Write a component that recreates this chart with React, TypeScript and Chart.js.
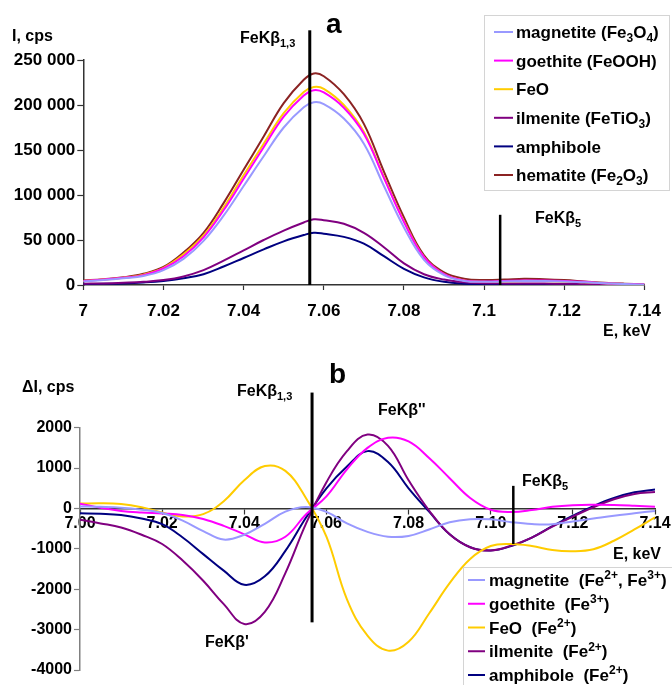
import React, { useEffect, useRef } from 'react';
import { Chart, registerables } from 'chart.js';

Chart.register(...registerables);

const FONT = '"Liberation Sans", Arial, Helvetica, sans-serif';

// ---------- Panel a: FeKβ spectra ----------
const energiesA = [7.000, 7.005, 7.010, 7.015, 7.020, 7.025, 7.030, 7.035, 7.040, 7.045, 7.050, 7.055, 7.0575, 7.060, 7.065, 7.070, 7.075, 7.080, 7.085, 7.090, 7.095, 7.100, 7.105, 7.110, 7.115, 7.120, 7.125, 7.130, 7.135, 7.140];
const magnetiteA = [4000, 5500, 7500, 10000, 16500, 29000, 49000, 77000, 110000, 143000, 175000, 197500, 203000, 201000, 185000, 157000, 110000, 64000, 28000, 11000, 4500, 3500, 4000, 4500, 4500, 4000, 3000, 2000, 1000, 500];
const goethiteA = [4500, 6000, 8000, 11000, 18500, 32000, 53000, 83000, 118000, 153000, 187000, 210500, 216500, 214000, 197000, 168000, 119000, 70000, 31000, 12000, 5000, 4000, 4500, 5000, 5000, 4500, 3500, 2000, 1200, 600];
const feoA = [4500, 6000, 8000, 11500, 19000, 34000, 55000, 86000, 122000, 157000, 191000, 214500, 220000, 218000, 200000, 170000, 120000, 71000, 31000, 12000, 5000, 3500, 4000, 4500, 4500, 4000, 3000, 2000, 1000, 500];
const ilmeniteA = [1500, 1800, 2500, 3500, 5500, 9500, 16500, 27000, 38500, 50000, 60500, 69500, 73000, 72000, 68000, 58000, 42000, 24000, 12000, 6000, 3000, 2000, 1800, 1800, 1600, 1400, 1200, 1000, 800, 600];
const amphiboleA = [1000, 1300, 1800, 2800, 4500, 7500, 12000, 20500, 30000, 39500, 48500, 55500, 58000, 57000, 53500, 46000, 32000, 18000, 8500, 3500, 1500, 1000, 800, 700, 600, 500, 400, 300, 300, 200];
const hematiteA = [5000, 6500, 8500, 12500, 20000, 36000, 58000, 91000, 128000, 165000, 202000, 228000, 235000, 232000, 212000, 179000, 126000, 75000, 33000, 14000, 7000, 5500, 6000, 7000, 6500, 5500, 4000, 2500, 1500, 800];
const namesA = ['magnetite (Fe₃O₄)', 'goethite (FeOOH)', 'FeO', 'ilmenite (FeTiO₃)', 'amphibole', 'hematite (Fe₂O₃)'];
const xTicksA = [7, 7.02, 7.04, 7.06, 7.08, 7.1, 7.12, 7.14];
const xLabelsA = ['7', '7.02', '7.04', '7.06', '7.08', '7.1', '7.12', '7.14'];
const yTicksA = [0, 50000, 100000, 150000, 200000, 250000];
const yLabelsA = ['0', '50 000', '100 000', '150 000', '200 000', '250 000'];
const markKb13A = [7.0565, 0, 283000]; // E, from, to
const markKb5A = [7.104, 0, 78000];

// ---------- Panel b: difference spectra ----------
const energiesB = [7.000, 7.005, 7.010, 7.015, 7.020, 7.025, 7.030, 7.035, 7.040, 7.045, 7.050, 7.055, 7.060, 7.065, 7.070, 7.075, 7.080, 7.085, 7.090, 7.095, 7.100, 7.105, 7.110, 7.115, 7.120, 7.125, 7.130, 7.135, 7.140];
const magnetiteB = [50, 40, 20, -30, -110, -300, -560, -770, -650, -380, -80, 35, -85, -370, -580, -700, -680, -520, -340, -265, -270, -340, -385, -390, -320, -250, -180, -120, -60];
const goethiteB = [120, 20, -60, -100, -125, -160, -260, -430, -640, -840, -700, -150, 300, 970, 1500, 1750, 1660, 1250, 750, 260, -30, -85, -40, 40, 80, 90, 85, 65, 40];
const feoB = [120, 130, 110, 30, -100, -200, -140, 180, 700, 1050, 930, 260, -700, -2250, -3150, -3520, -3300, -2600, -1850, -1250, -930, -880, -930, -1030, -1060, -1010, -800, -520, -220];
const ilmeniteB = [-280, -370, -470, -650, -880, -1290, -1790, -2370, -2860, -2560, -1600, -380, 650, 1420, 1830, 1550, 700, -50, -640, -960, -1040, -920, -720, -450, -200, 30, 230, 360, 410];
const amphiboleB = [-120, -130, -160, -250, -390, -720, -1130, -1540, -1890, -1680, -1050, -230, 500, 1040, 1420, 1150, 500, -80, -640, -960, -1040, -930, -720, -440, -180, 60, 260, 400, 470];
const namesB = ['magnetite  (Fe²⁺, Fe³⁺)', 'goethite  (Fe³⁺)', 'FeO  (Fe²⁺)', 'ilmenite  (Fe²⁺)', 'amphibole  (Fe²⁺)'];
const xTicksB = [7.0, 7.02, 7.04, 7.06, 7.08, 7.1, 7.12, 7.14];
const xLabelsB = ['7.00', '7.02', '7.04', '7.06', '7.08', '7.10', '7.12', '7.14'];
const yTicksB = [-4000, -3000, -2000, -1000, 0, 1000, 2000];
const yLabelsB = ['-4000', '-3000', '-2000', '-1000', '0', '1000', '2000'];
const markKb13B = [7.0565, -2820, 2870];
const markKb5B = [7.1055, -880, 560];

const COLORS = {
  magnetite: '#9999ff',
  goethite: '#ff00ff',
  feo: '#ffcc00',
  ilmenite: '#800080',
  amphibole: '#000080',
  hematite: '#8b2323',
};

// ---------- rich text (sub/superscripts) ----------
const SUBS = '₀₁₂₃₄₅₆₇₈₉';
const SUPS = '⁰¹²³⁴⁵⁶⁷⁸⁹';
type Seg = { t: string; k: 'n' | 'sub' | 'sup' };
function segs(s: string): Seg[] {
  const out: Seg[] = [];
  const chars = Array.from(s);
  chars.forEach((ch, i) => {
    let k: Seg['k'] = 'n';
    let c = ch;
    const si = SUBS.indexOf(ch);
    const pi = SUPS.indexOf(ch);
    if (si >= 0) { k = 'sub'; c = String(si); }
    else if (pi >= 0) { k = 'sup'; c = String(pi); }
    else if (ch === '⁺') { k = 'sup'; c = '+'; }
    else if (ch === ',' && SUBS.indexOf(chars[i - 1] ?? 'x') >= 0 && SUBS.indexOf(chars[i + 1] ?? 'x') >= 0) { k = 'sub'; }
    const last = out[out.length - 1];
    if (last && last.k === k) last.t += c; else out.push({ t: c, k });
  });
  return out;
}
function drawRich(ctx: CanvasRenderingContext2D, s: string, x: number, y: number, size: number, color = '#000') {
  let cx = x;
  ctx.textBaseline = 'alphabetic';
  ctx.textAlign = 'left';
  ctx.fillStyle = color;
  for (const g of segs(s)) {
    const small = g.k !== 'n';
    const fs = small ? Math.round(size * 0.68) : size;
    ctx.font = `bold ${fs}px ${FONT}`;
    const dy = g.k === 'sub' ? size * 0.22 : g.k === 'sup' ? -size * 0.4 : 0;
    ctx.fillText(g.t, cx, y + dy);
    cx += ctx.measureText(g.t).width;
  }
}

type TextItem = { text: string; x: number; y: number; size: number };
type LegendSpec = { x: number; y: number; w: number; h: number; row0: number; step: number; lx0: number; lx1: number; tx: number; size: number; first: number };

function annotPlugin(id: string, texts: TextItem[], legend: LegendSpec) {
  return {
    id,
    afterDraw(chart: any) {
      const ctx: CanvasRenderingContext2D = chart.ctx;
      ctx.save();
      for (const t of texts) drawRich(ctx, t.text, t.x, t.y, t.size);
      ctx.fillStyle = '#ffffff';
      ctx.fillRect(legend.x, legend.y, legend.w, legend.h);
      ctx.strokeStyle = '#d4d4d4';
      ctx.lineWidth = 1;
      ctx.strokeRect(legend.x + 0.5, legend.y + 0.5, legend.w, legend.h);
      const ds = chart.data.datasets.slice(legend.first);
      ds.forEach((d: any, i: number) => {
        const cy = legend.row0 + i * legend.step;
        ctx.strokeStyle = d.borderColor;
        ctx.lineWidth = 2;
        ctx.beginPath();
        ctx.moveTo(legend.lx0, cy);
        ctx.lineTo(legend.lx1, cy);
        ctx.stroke();
        drawRich(ctx, d.label, legend.tx, cy + legend.size * 0.36, legend.size);
      });
      ctx.restore();
    },
  };
}

function curve(label: string, xs: number[], ys: number[], color: string) {
  return {
    label,
    data: xs.map((x, i) => ({ x, y: ys[i] })),
    borderColor: color,
    backgroundColor: color,
    borderWidth: 2,
    pointRadius: 0,
    tension: 0.4,
    fill: false,
  };
}
function marker(m: number[], width: number) {
  return {
    label: '',
    data: [{ x: m[0], y: m[1] }, { x: m[0], y: m[2] }],
    borderColor: '#000',
    borderWidth: width,
    pointRadius: 0,
    tension: 0,
    fill: false,
    clip: false,
  };
}

const tickFont = (size: number) => ({ family: FONT, size, weight: 'bold' as const });

export default function App() {
  const refA = useRef<HTMLCanvasElement>(null);
  const refB = useRef<HTMLCanvasElement>(null);

  useEffect(() => {
    Chart.defaults.font.family = FONT;

    const chartA = new Chart(refA.current as HTMLCanvasElement, {
      type: 'line',
      data: {
        datasets: [
          marker(markKb13A, 3),
          marker(markKb5A, 2.5),
          curve(namesA[0], energiesA, magnetiteA, COLORS.magnetite),
          curve(namesA[1], energiesA, goethiteA, COLORS.goethite),
          curve(namesA[2], energiesA, feoA, COLORS.feo),
          curve(namesA[3], energiesA, ilmeniteA, COLORS.ilmenite),
          curve(namesA[4], energiesA, amphiboleA, COLORS.amphibole),
          curve(namesA[5], energiesA, hematiteA, COLORS.hematite),
        ] as any,
      },
      options: {
        responsive: false,
        animation: false,
        events: [],
        layout: { padding: { left: 0, right: 18, top: 60, bottom: 0 } },
        plugins: { legend: { display: false }, tooltip: { enabled: false } },
        scales: {
          x: {
            type: 'linear',
            min: 7,
            max: 7.14,
            afterBuildTicks: (s: any) => { s.ticks = xTicksA.map((v) => ({ value: v })); },
            afterFit: (s: any) => { s.height = 55; },
            ticks: {
              autoSkip: false,
              maxRotation: 0,
              color: '#000',
              font: tickFont(17),
              padding: 11,
              callback: (_v: any, i: number) => xLabelsA[i],
            },
            grid: { drawOnChartArea: false, drawTicks: true, tickLength: 5, color: '#333', tickWidth: 1.2 },
            border: { display: true, color: '#333', width: 1.5 },
          },
          y: {
            type: 'linear',
            min: 0,
            max: 250000,
            afterBuildTicks: (s: any) => { s.ticks = yTicksA.map((v) => ({ value: v })); },
            afterFit: (s: any) => { s.width = 83.3; },
            ticks: {
              autoSkip: false,
              color: '#000',
              font: tickFont(17),
              padding: 2,
              callback: (_v: any, i: number) => yLabelsA[i],
            },
            grid: { drawOnChartArea: false, drawTicks: true, tickLength: 6, color: '#333', tickWidth: 1.2 },
            border: { display: true, color: '#333', width: 1.5 },
          },
        },
      },
      plugins: [
        annotPlugin('annotA', [
          { text: 'I, cps', x: 12, y: 41, size: 16 },
          { text: 'a', x: 326, y: 33, size: 28 },
          { text: 'FeKβ₁,₃', x: 240, y: 43, size: 16 },
          { text: 'FeKβ₅', x: 535, y: 223, size: 16 },
          { text: 'E, keV', x: 603, y: 336, size: 16 },
        ], { x: 484, y: 15, w: 185, h: 175, row0: 32, step: 28.6, lx0: 494, lx1: 513, tx: 516, size: 17, first: 2 }),
      ] as any,
    } as any);

    const chartB = new Chart(refB.current as HTMLCanvasElement, {
      type: 'line',
      data: {
        datasets: [
          marker(markKb13B, 3),
          marker(markKb5B, 2.5),
          curve(namesB[0], energiesB, magnetiteB, COLORS.magnetite),
          curve(namesB[1], energiesB, goethiteB, COLORS.goethite),
          curve(namesB[2], energiesB, feoB, COLORS.feo),
          curve(namesB[3], energiesB, ilmeniteB, COLORS.ilmenite),
          curve(namesB[4], energiesB, amphiboleB, COLORS.amphibole),
        ] as any,
      },
      options: {
        responsive: false,
        animation: false,
        events: [],
        layout: { padding: { left: 0, right: 17, top: 87.7, bottom: 15 } },
        plugins: { legend: { display: false }, tooltip: { enabled: false } },
        scales: {
          x: {
            type: 'linear',
            min: 7,
            max: 7.14,
            position: { y: 0 } as any,
            afterBuildTicks: (s: any) => { s.ticks = xTicksB.map((v) => ({ value: v })); },
            afterFit: (s: any) => { s.height = 0; },
            ticks: {
              autoSkip: false,
              maxRotation: 0,
              color: '#000',
              font: tickFont(16),
              padding: 1,
              callback: (_v: any, i: number) => xLabelsB[i],
            },
            grid: { drawOnChartArea: false, drawTicks: true, tickLength: 5, color: '#333', tickWidth: 1.2 },
            border: { display: true, color: '#333', width: 1.5 },
          },
          y: {
            type: 'linear',
            min: -4000,
            max: 2000,
            afterBuildTicks: (s: any) => { s.ticks = yTicksB.map((v) => ({ value: v })); },
            afterFit: (s: any) => { s.width = 80; },
            ticks: {
              autoSkip: false,
              color: '#000',
              font: tickFont(16),
              padding: 2,
              callback: (_v: any, i: number) => yLabelsB[i],
            },
            grid: { drawOnChartArea: false, drawTicks: true, tickLength: 6, color: '#808080', tickWidth: 1.2 },
            border: { display: true, color: '#808080', width: 1.5 },
          },
        },
      },
      plugins: [
        annotPlugin('annotB', [
          { text: 'ΔI, cps', x: 22, y: 52, size: 16 },
          { text: 'b', x: 329, y: 43, size: 28 },
          { text: 'FeKβ₁,₃', x: 237, y: 56, size: 16 },
          { text: "FeKβ''", x: 378, y: 75, size: 16 },
          { text: 'FeKβ₅', x: 522, y: 146, size: 16 },
          { text: "FeKβ'", x: 205, y: 307, size: 16 },
          { text: 'E, keV', x: 613, y: 219, size: 16 },
        ], { x: 463, y: 227, w: 220, h: 140, row0: 240, step: 23.75, lx0: 468, lx1: 485, tx: 489, size: 17, first: 2 }),
      ] as any,
    } as any);

    return () => {
      chartA.destroy();
      chartB.destroy();
    };
  }, []);

  return (
    <div style={{ position: 'fixed', left: 0, top: 0, width: 672, height: 685, background: '#ffffff' }}>
      <canvas ref={refA} width={672} height={340} style={{ position: 'absolute', left: 0, top: 0, display: 'block' }} />
      <canvas ref={refB} width={672} height={345} style={{ position: 'absolute', left: 0, top: 340, display: 'block' }} />
    </div>
  );
}
